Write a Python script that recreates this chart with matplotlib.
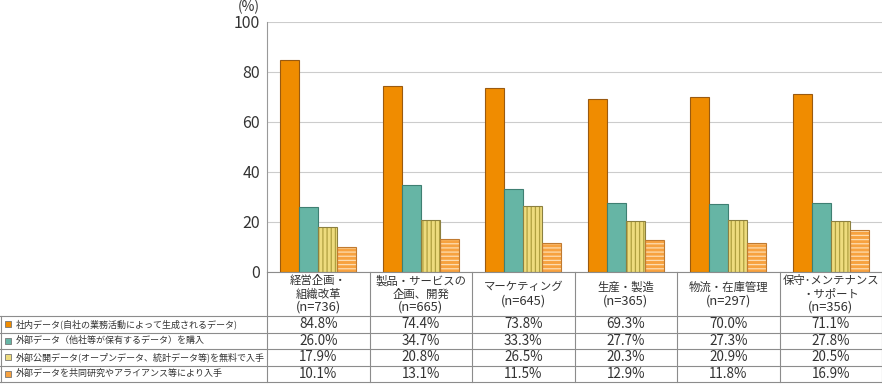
import matplotlib
matplotlib.use("Agg")
import matplotlib.pyplot as plt
from matplotlib.patches import Rectangle

plt.rcParams['font.family'] = ['Noto Sans CJK JP', 'DejaVu Sans']
plt.rcParams['hatch.linewidth'] = 0.9

categories = ["経営企画・\n組織改革", "製品・サービスの\n企画、開発",
              "マーケティング", "生産・製造",
              "物流・在庫管理", "保守･メンテナンス\n・サポート"]
counts = ["(n=736)", "(n=665)", "(n=645)", "(n=365)", "(n=297)", "(n=356)"]
series_names = ["社内データ(自社の業務活動によって生成されるデータ)",
                "外部データ（他社等が保有するデータ）を購入",
                "外部公開データ(オープンデータ、統計データ等)を無料で入手",
                "外部データを共同研究やアライアンス等により入手"]
internal = [84.8, 74.4, 73.8, 69.3, 70.0, 71.1]
purchased = [26.0, 34.7, 33.3, 27.7, 27.3, 27.8]
open_free = [17.9, 20.8, 26.5, 20.3, 20.9, 20.5]
alliance = [10.1, 13.1, 11.5, 12.9, 11.8, 16.9]
yticks = [0, 20, 40, 60, 80, 100]

series = [internal, purchased, open_free, alliance]
face = ['#F08C00', '#66B5A5', '#EEDC7E', '#F7A240']
hatchcol = [None, None, '#B0A040', '#FDDCB0']
hatch = [None, None, '||||', '----']
outline = ['#9A5A10', '#3F7F72', '#8C8040', '#C07A30']
txtc = '#333333'

W, H = 882, 385
fig = plt.figure(figsize=(W/100, H/100), dpi=100)

x0, x1 = 267, 882
ytop, ybot = 22, 272
ax = fig.add_axes([x0/W, 1 - ybot/H, (x1-x0)/W, (ybot-ytop)/H])
n = len(categories)
bw = 0.185
for s, vals in enumerate(series):
    xs = [i + (s - 1.5) * bw for i in range(n)]
    if hatch[s]:
        ax.bar(xs, vals, bw, color=face[s], edgecolor=hatchcol[s], hatch=hatch[s], linewidth=0, zorder=3)
        ax.bar(xs, vals, bw, fill=False, edgecolor=outline[s], linewidth=0.8, zorder=4)
    else:
        ax.bar(xs, vals, bw, color=face[s], edgecolor=outline[s], linewidth=0.8, zorder=3)
ax.set_xlim(-0.5, n - 0.5)
ax.set_ylim(0, 100)
ax.set_yticks(yticks)
ax.set_yticklabels([str(v) for v in yticks], fontsize=11.5, color=txtc)
ax.tick_params(axis='y', length=0, pad=5)
ax.set_xticks([])
ax.grid(axis='y', color='#CCCCCC', linewidth=0.8, zorder=0)
for sp in ['top', 'right', 'bottom']:
    ax.spines[sp].set_visible(False)
ax.spines['left'].set_color('#999999')
ax.spines['left'].set_linewidth(0.8)

# table overlay in pixel coordinates
tx = fig.add_axes([0, 0, 1, 1])
tx.set_xlim(0, W)
tx.set_ylim(H, 0)
tx.axis('off')
tx.text(249, 7, "(%)", ha='center', va='center', fontsize=10, color=txtc)
lc = '#8C8C8C'
colw = (x1 - x0) / n
rows = [316, 332.5, 349, 365.5, 382]
tx.plot([x0, x1], [272, 272], color=lc, lw=0.8)
for r in rows:
    tx.plot([0, x1], [r, r], color=lc, lw=0.8)
tx.plot([0.5, 0.5], [rows[0], rows[-1]], color=lc, lw=0.8)
for i in range(n + 1):
    xv = x0 + i * colw
    if xv > W - 1:
        xv = W - 0.5
    tx.plot([xv, xv], [272, rows[-1]], color=lc, lw=0.8)
lh = 13.5
for i, c in enumerate(categories):
    lines = c.split("\n") + [counts[i]]
    k = len(lines)
    y_first = 294 - (k - 1) * lh / 2
    xc = x0 + (i + 0.5) * colw
    for j, t in enumerate(lines):
        fs = 9.3 if j == k - 1 else 8.2
        tx.text(xc, y_first + j * lh, t, ha='center', va='center', fontsize=fs, color=txtc)
for s, vals in enumerate(series):
    yc = (rows[s] + rows[s + 1]) / 2
    tx.add_patch(Rectangle((5, yc - 3), 6, 6, facecolor=face[s], edgecolor='#777777', lw=0.6))
    tx.text(16, yc, series_names[s], ha='left', va='center', fontsize=6.5, color=txtc)
    for i, v in enumerate(vals):
        tx.text(x0 + (i + 0.5) * colw, yc, f"{v:.1f}%", ha='center', va='center',
                fontsize=9.7, color=txtc)

fig.savefig("out.png", dpi=100)
